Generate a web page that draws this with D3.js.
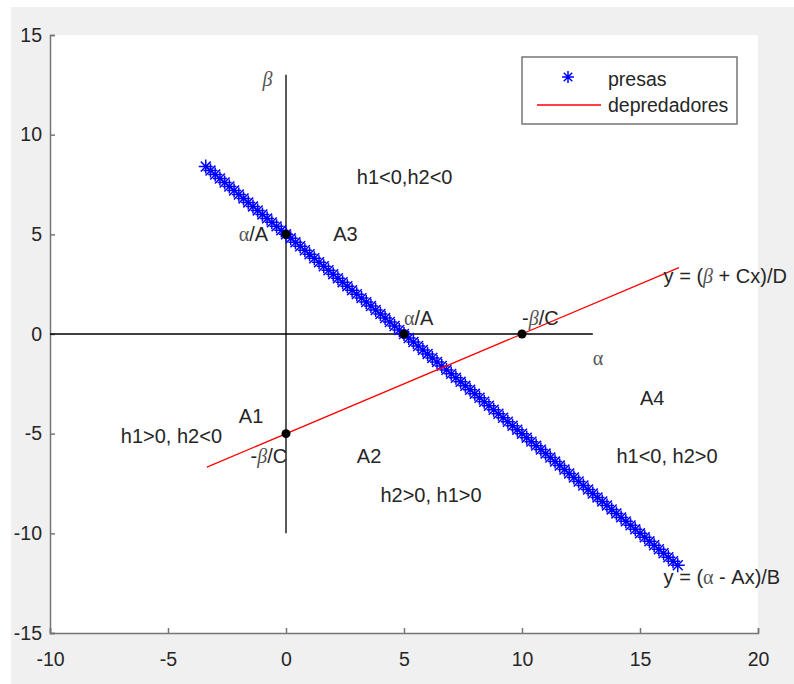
<!DOCTYPE html>
<html lang="en">
<head>
<meta charset="UTF-8">
<title>presas y depredadores</title>
<script src="https://d3js.org/d3.v7.min.js"></script>
<style>
  body { margin: 0; background: #fff; }
  text { font-family: "Liberation Sans", Arial, sans-serif; }
  .tick text { font-size: 19.5px; fill: #262626; }
  .tick line, .domain { stroke: #767676; stroke-width: 1.5; }
  .greek { font-family: "Liberation Serif", "Times New Roman", serif; fill: #555; }
</style>
</head>
<body>
<svg width="794" height="684"></svg>
<script>
// presas: y = (alpha - A x)/B sampled points
var presasX = [-3.4,-3.2,-3.0,-2.8,-2.6,-2.4,-2.2,-2.0,-1.8,-1.6,-1.4,-1.2,-1.0,-0.8,-0.6,-0.4,-0.2,0.0,
  0.2,0.4,0.6,0.8,1.0,1.2,1.4,1.6,1.8,2.0,2.2,2.4,2.6,2.8,3.0,3.2,3.4,3.6,3.8,4.0,4.2,4.4,4.6,4.8,5.0,
  5.2,5.4,5.6,5.8,6.0,6.2,6.4,6.6,6.8,7.0,7.2,7.4,7.6,7.8,8.0,8.2,8.4,8.6,8.8,9.0,9.2,9.4,9.6,9.8,10.0,
  10.2,10.4,10.6,10.8,11.0,11.2,11.4,11.6,11.8,12.0,12.2,12.4,12.6,12.8,13.0,13.2,13.4,13.6,13.8,14.0,
  14.2,14.4,14.6,14.8,15.0,15.2,15.4,15.6,15.8,16.0,16.2,16.4,16.6];
var presasY = [8.4,8.2,8.0,7.8,7.6,7.4,7.2,7.0,6.8,6.6,6.4,6.2,6.0,5.8,5.6,5.4,5.2,5.0,
  4.8,4.6,4.4,4.2,4.0,3.8,3.6,3.4,3.2,3.0,2.8,2.6,2.4,2.2,2.0,1.8,1.6,1.4,1.2,1.0,0.8,0.6,0.4,0.2,0.0,
  -0.2,-0.4,-0.6,-0.8,-1.0,-1.2,-1.4,-1.6,-1.8,-2.0,-2.2,-2.4,-2.6,-2.8,-3.0,-3.2,-3.4,-3.6,-3.8,-4.0,-4.2,-4.4,-4.6,-4.8,-5.0,
  -5.2,-5.4,-5.6,-5.8,-6.0,-6.2,-6.4,-6.6,-6.8,-7.0,-7.2,-7.4,-7.6,-7.8,-8.0,-8.2,-8.4,-8.6,-8.8,-9.0,
  -9.2,-9.4,-9.6,-9.8,-10.0,-10.2,-10.4,-10.6,-10.8,-11.0,-11.2,-11.4,-11.6];

// depredadores: y = (beta + C x)/D
var depX = [-3.35, 16.65];
var depY = [-6.675, 3.325];

// reference axes drawn inside the plot
var hLineX = [-10, 13], hLineY = [0, 0];
var vLineX = [0, 0],   vLineY = [-10, 13];

// marked points
var dotX = [0, 5, 10, 0];
var dotY = [5, 0, 0, -5];

// annotations
var labelX = [-1, 13, -2, 2, 3, 5, 10, 15, 14, 16, -2, -7, -1.5, 3, 4, 16];
var labelY = [12.8, -1.2, 5, 5, 7.9, 0.8, 0.8, -3.2, -6.1, 2.9, -4.1, -5.1, -6.1, -6.1, -8.1, -12.2];
var labelText = ["β", "α", "α/A", "A3", "h1<0,h2<0", "α/A", "-β/C", "A4", "h1<0, h2>0",
  "y = (β + Cx)/D", "A1", "h1>0, h2<0", "-β/C", "A2", "h2>0, h1>0", "y = (α - Ax)/B"];

var xTicks = [-10, -5, 0, 5, 10, 15, 20];
var yTicks = [-15, -10, -5, 0, 5, 10, 15];
var legendNames = ["presas", "depredadores"];

var svg = d3.select("svg");

// figure background
svg.append("rect").attr("x", 11).attr("y", 7).attr("width", 783).attr("height", 677).attr("fill", "#f0f0f0");

var x = d3.scaleLinear().domain([-10, 20]).range([50, 758]);
var y = d3.scaleLinear().domain([-15, 15]).range([633, 35]);

svg.append("rect").attr("x", x(-10)).attr("y", y(15))
  .attr("width", x(20) - x(-10)).attr("height", y(-15) - y(15)).attr("fill", "#fff");

svg.append("g").attr("transform", "translate(0," + y(-15) + ")")
  .call(d3.axisBottom(x).tickValues(xTicks).tickFormat(String).tickSizeInner(-5).tickSizeOuter(-5).tickPadding(19));
svg.append("g").attr("transform", "translate(" + x(-10) + ",0)")
  .call(d3.axisLeft(y).tickValues(yTicks).tickFormat(String).tickSizeInner(-5).tickSizeOuter(-5).tickPadding(8));

var line = d3.line().x(function(d) { return x(d[0]); }).y(function(d) { return y(d[1]); });

// black reference lines
svg.append("path").datum(d3.zip(hLineX, hLineY)).attr("d", line)
  .attr("fill", "none").attr("stroke", "#000").attr("stroke-width", 1.3);
svg.append("path").datum(d3.zip(vLineX, vLineY)).attr("d", line)
  .attr("fill", "none").attr("stroke", "#000").attr("stroke-width", 1.3);

// asterisk marker
function star(sel, r) {
  var d = r * 0.7071;
  sel.append("path")
    .attr("d", "M" + (-r) + ",0H" + r + "M0," + (-r) + "V" + r +
      "M" + (-d) + "," + (-d) + "L" + d + "," + d + "M" + (-d) + "," + d + "L" + d + "," + (-d))
    .attr("stroke", "#0000ff").attr("stroke-width", 1.5).attr("fill", "none");
}

svg.append("g").selectAll("g").data(d3.zip(presasX, presasY)).enter().append("g")
  .attr("transform", function(d) { return "translate(" + x(d[0]) + "," + y(d[1]) + ")"; })
  .each(function() { star(d3.select(this), 7); });

svg.append("path").datum(d3.zip(depX, depY)).attr("d", line)
  .attr("fill", "none").attr("stroke", "#ff0000").attr("stroke-width", 1.3);

svg.append("g").selectAll("circle").data(d3.zip(dotX, dotY)).enter().append("circle")
  .attr("cx", function(d) { return x(d[0]); }).attr("cy", function(d) { return y(d[1]); })
  .attr("r", 4.5).attr("fill", "#000");

// text with greek letters in serif
function richText(t, s) {
  var parts = s.split(/([αβ])/);
  parts.forEach(function(p) {
    if (!p) return;
    var ts = t.append("tspan").text(p);
    if (p === "α" || p === "β") ts.attr("class", "greek").style("font-style", p === "β" ? "italic" : "normal");
  });
}

svg.append("g").selectAll("text").data(labelText).enter().append("text")
  .attr("x", function(d, i) { return x(labelX[i]); })
  .attr("y", function(d, i) { return y(labelY[i]); })
  .attr("dy", "0.35em").attr("font-size", 20).attr("fill", "#262626")
  .each(function(d) { richText(d3.select(this), d); });

// legend
var lg = svg.append("g");
lg.append("rect").attr("x", 522).attr("y", 57).attr("width", 215).attr("height", 67)
  .attr("fill", "#fff").attr("stroke", "#767676").attr("stroke-width", 1.5);
star(lg.append("g").attr("transform", "translate(568,77)"), 6);
lg.append("line").attr("x1", 537).attr("x2", 601).attr("y1", 105).attr("y2", 105)
  .attr("stroke", "#ff0000").attr("stroke-width", 1.3);
lg.selectAll("text.lg").data(legendNames).enter().append("text").attr("class", "lg")
  .attr("x", 608).attr("y", function(d, i) { return 79 + i * 26; }).attr("dy", "0.35em")
  .attr("font-size", 19.5).attr("fill", "#262626").text(function(d) { return d; });
</script>
</body>
</html>
